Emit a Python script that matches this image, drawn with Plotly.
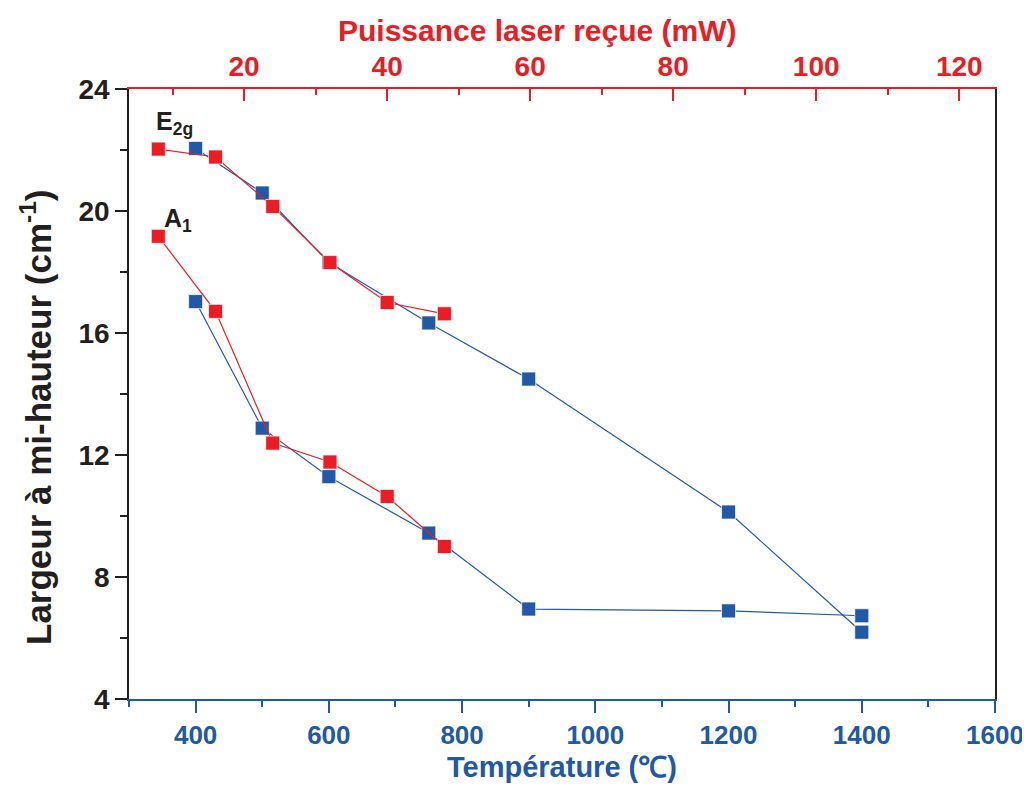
import plotly.graph_objects as go

# Data
temperature = [400, 500, 600, 750, 900, 1200, 1400]
e2g_temp = [22.05, 20.59, 18.31, 16.33, 14.49, 10.13, 6.19]
a1_temp = [17.03, 12.88, 11.29, 9.44, 6.95, 6.89, 6.73]

power = [8, 16, 24, 32, 40, 48]
e2g_power = [22.03, 21.77, 20.15, 18.31, 17.0, 16.63]
a1_power = [19.17, 16.71, 12.39, 11.77, 10.64, 9.0]

BLUE = "#2159a8"
RED = "#ec1c24"
BLACK = "#231f20"
FONT = "Liberation Sans"

fig = go.Figure()

def add(x, y, color, xaxis):
    fig.add_trace(go.Scatter(
        x=x, y=y, mode="lines+markers", xaxis=xaxis, yaxis="y",
        line=dict(color=color, width=1.2),
        marker=dict(symbol="square", size=14, color=color,
                    line=dict(color="rgba(255,255,255,0.7)", width=1)),
        showlegend=False, hoverinfo="skip"))

add(temperature, e2g_temp, BLUE, "x")
add(temperature, a1_temp, BLUE, "x")
add(power, e2g_power, RED, "x2")
add(power, a1_power, RED, "x2")

TS = 28
tickfont_b = dict(family=FONT, size=26, color=BLUE, weight="bold")
tickfont_r = dict(family=FONT, size=TS, color=RED, weight="bold")
tickfont_k = dict(family=FONT, size=TS, color=BLACK, weight="bold")

# page body has an 8px margin: figure is shifted by 8px right/down
fig.update_layout(
    width=1022, height=779,
    margin=dict(l=121, r=35, t=81, b=88),
    paper_bgcolor="white", plot_bgcolor="white",
    xaxis=dict(range=[300, 1600], tick0=400, dtick=200, showgrid=False, zeroline=False,
               automargin=False, ticklabeloverflow="allow",
               showline=True, linecolor=BLUE, linewidth=1.5,
               ticks="outside", ticklen=12, tickwidth=1.5, tickcolor=BLUE,
               tickfont=tickfont_b,
               minor=dict(tick0=300, dtick=100, ticks="outside", ticklen=6, tickwidth=1.5, tickcolor=BLUE)),
    xaxis2=dict(range=[3.9, 125], tick0=0, dtick=20, overlaying="x", side="top",
                anchor="y", showgrid=False, zeroline=False, automargin=False,
                showline=True, linecolor=RED, linewidth=1.5,
                ticks="inside", ticklen=12, tickwidth=1.5, tickcolor=RED,
                tickfont=tickfont_r,
                minor=dict(tick0=0, dtick=10, ticks="inside", ticklen=6, tickwidth=1.5, tickcolor=RED)),
    yaxis=dict(range=[4, 24], tick0=4, dtick=4, showgrid=False, zeroline=False,
               automargin=False,
               showline=True, linecolor=BLACK, linewidth=1.5, mirror=True,
               ticks="outside", ticklen=12, tickwidth=1.5, tickcolor=BLACK,
               tickfont=tickfont_k,
               minor=dict(dtick=2, ticks="outside", ticklen=7, tickwidth=1.5, tickcolor=BLACK)),
)

annotations = [
    dict(text="Puissance laser reçue (mW)", xref="paper", yref="paper",
         x=0.4717, y=1.0 + (89 - 30) / 610, xanchor="center", yanchor="middle", showarrow=False,
         font=dict(family=FONT, size=30, color=RED, weight="bold")),
    dict(text="Température (℃)", xref="paper", yref="paper",
         x=0.5, y=-(767 - 699) / 610, xanchor="center", yanchor="middle", showarrow=False,
         font=dict(family=FONT, size=29, color=BLUE, weight="bold")),
    dict(text="Largeur à mi-hauteur (cm<sup>-1</sup>)", xref="paper", yref="paper",
         x=(36 - 129) / 866, y=(699 - 417) / 610, xanchor="center", yanchor="middle",
         textangle=-90, showarrow=False,
         font=dict(family=FONT, size=35, color=BLACK, weight="bold")),
    dict(text="E<sub>2g</sub>", xref="x", yref="y", x=337, y=22.9,
         xanchor="left", yanchor="middle", showarrow=False,
         font=dict(family=FONT, size=25, color=BLACK, weight="bold")),
    dict(text="A<sub>1</sub>", xref="x", yref="y", x=349, y=19.7,
         xanchor="left", yanchor="middle", showarrow=False,
         font=dict(family=FONT, size=25, color=BLACK, weight="bold")),
]
fig.update_layout(annotations=annotations)

fig.write_html("out.html")
